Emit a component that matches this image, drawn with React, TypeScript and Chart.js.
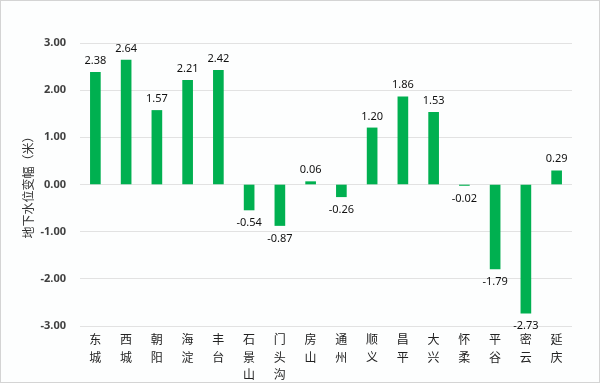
import React, { useEffect, useRef } from "react";
import { Chart, registerables } from "chart.js";

Chart.register(...registerables);

const categories: string[][] = [
  ["东", "城"], ["西", "城"], ["朝", "阳"], ["海", "淀"], ["丰", "台"],
  ["石", "景", "山"], ["门", "头", "沟"], ["房", "山"], ["通", "州"], ["顺", "义"],
  ["昌", "平"], ["大", "兴"], ["怀", "柔"], ["平", "谷"], ["密", "云"], ["延", "庆"],
];
const waterLevelChange: number[] = [
  2.38, 2.64, 1.57, 2.21, 2.42, -0.54, -0.87, 0.06, -0.26, 1.2, 1.86, 1.53, -0.02, -1.79, -2.73, 0.29,
];
const yAxisTitle = "地下水位变幅（米）";
const yMin = -3;
const yMax = 3;

export default function App() {
  const ref = useRef<HTMLCanvasElement | null>(null);

  useEffect(() => {
    document.body.style.margin = "0";
    const canvas = ref.current;
    if (!canvas) return;

    const bgPlugin = {
      id: "bgBorder",
      beforeDraw(chart: any) {
        const ctx = chart.ctx;
        ctx.save();
        ctx.fillStyle = "#fdfefe";
        ctx.fillRect(0, 0, chart.width, chart.height);
        ctx.restore();
      },
      afterDraw(chart: any) {
        const ctx = chart.ctx;
        ctx.save();
        ctx.strokeStyle = "#d4d4d4";
        ctx.lineWidth = 1;
        ctx.strokeRect(0.5, 0.5, chart.width - 1, chart.height - 1);
        ctx.restore();
      },
    };

    const labelPlugin = {
      id: "valueLabels",
      afterDatasetsDraw(chart: any) {
        const ctx = chart.ctx;
        const meta = chart.getDatasetMeta(0);
        const data = chart.data.datasets[0].data as number[];
        ctx.save();
        ctx.font = "11px 'Noto Sans'";
        ctx.fillStyle = "#111";
        ctx.textAlign = "center";
        ctx.textBaseline = "middle";
        meta.data.forEach((el: any, i: number) => {
          const v = data[i];
          const y = v >= 0 ? el.y - 11.5 : el.y + 13;
          ctx.fillText(v.toFixed(2), el.x, y);
        });
        ctx.restore();
      },
    };

    const chart = new Chart(canvas, {
      type: "bar",
      data: {
        labels: categories,
        datasets: [
          {
            data: waterLevelChange,
            backgroundColor: "#00b050",
            borderWidth: 0,
            barThickness: 10,
          },
        ],
      },
      options: {
        responsive: false,
        animation: false,
        devicePixelRatio: 1,
        layout: { padding: { top: 43, right: 28, left: 0, bottom: 0 } },
        plugins: {
          legend: { display: false },
          tooltip: { enabled: false },
        },
        scales: {
          x: {
            grid: { display: false, drawTicks: false },
            border: { display: false },
            ticks: {
              autoSkip: false,
              maxRotation: 0,
              minRotation: 0,
              padding: 5,
              color: "#222",
              font: { family: "'Noto Sans CJK SC'", size: 12, lineHeight: 1.45 },
            },
            afterFit(scale: any) {
              scale.height = 57;
            },
          },
          y: {
            min: yMin,
            max: yMax,
            grid: { color: "#e2e2e2", drawTicks: false, lineWidth: 1 },
            border: { display: false },
            ticks: {
              stepSize: 1,
              padding: 14,
              color: "#404040",
              font: { family: "'Noto Sans'", size: 11, weight: "bold" },
              callback: (v: any) => Number(v).toFixed(2),
            },
            title: {
              display: true,
              text: yAxisTitle,
              color: "#333",
              font: { family: "'Noto Sans CJK SC'", size: 12 },
              padding: { top: 21, bottom: 0 },
            },
            afterFit(scale: any) {
              scale.width = 80;
            },
          },
        },
      },
      plugins: [bgPlugin, labelPlugin],
    });

    return () => chart.destroy();
  }, []);

  return (
    <div style={{ position: "fixed", left: 0, top: 0, width: 600, height: 383 }}>
      <canvas ref={ref} width={600} height={383} style={{ display: "block" }} />
    </div>
  );
}
